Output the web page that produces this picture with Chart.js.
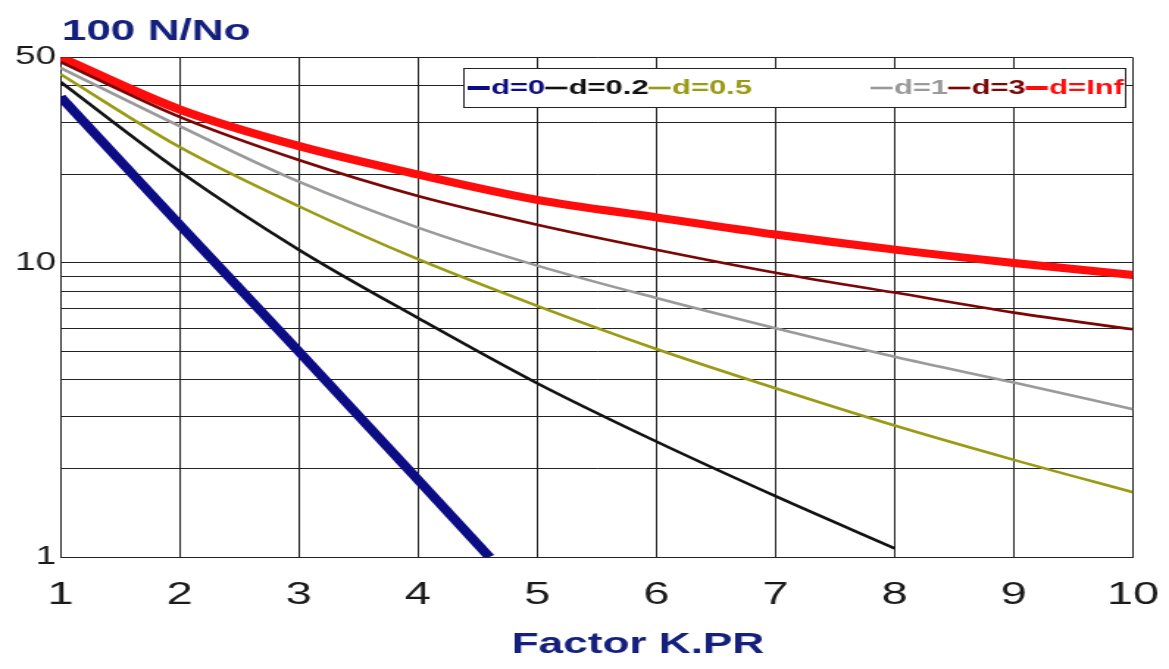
<!DOCTYPE html>
<html>
<head>
<meta charset="utf-8">
<script src="https://cdn.jsdelivr.net/npm/chart.js@4.4.1/dist/chart.umd.min.js"></script>
<style>
    html, body { margin: 0; padding: 0; background: #fff; overflow: hidden; }
    /* the source picture is stretched sideways, so the chart is drawn narrow and scaled */
    #wrap { position: absolute; left: 0; top: 0; width: 795px; height: 669px;
            transform: scaleX(1.47044); transform-origin: 0 0; }
</style>
</head>
<body>
<div id="wrap"><canvas id="chart"></canvas></div>
<script>
const xValues = [1, 2, 3, 4, 5, 6, 7, 8, 9, 10];
const xTickLabels = ['1', '2', '3', '4', '5', '6', '7', '8', '9', '10'];
const yGridValues = [1, 2, 3, 4, 5, 6, 7, 8, 9, 10, 20, 30, 40, 50];
const yTickLabels = [1, 10, 50];

const d0X = [1, 2, 3, 4, 4.6];
const d0Y = [36.8, 13.5, 5.0, 1.83, 1.0];
const d02X = [1, 2, 3, 4, 5, 6, 7, 8];
const d02Y = [41.3, 20.5, 11.1, 6.5, 3.9, 2.47, 1.61, 1.07];
const d05Y = [43.9, 24.8, 15.6, 10.3, 7.15, 5.1, 3.75, 2.8, 2.14, 1.66];
const d1Y = [46.1, 29.2, 18.9, 13.2, 9.8, 7.6, 6.0, 4.8, 3.92, 3.18];
const d3Y = [48.3, 31.4, 22.4, 16.9, 13.5, 11.1, 9.27, 7.93, 6.78, 5.95];
const dInfY = [50, 33.3, 25, 20, 16.4, 14.3, 12.5, 11.1, 10, 9.1];

const seriesLabels = ['d=0', 'd=0.2', 'd=0.5', 'd=1', 'd=3', 'd=Inf'];
const seriesColors = ['#0c0c84', '#111111', '#9a9a14', '#9a9a9a', '#7c0606', '#ff0d0d'];
const seriesWidths = [7.5, 2.6, 2.6, 2.6, 2.6, 8];

const FONT = '"Liberation Sans", Arial, sans-serif';
const NAVY = '#14207c';

function toPoints(xs, ys) {
    return ys.map((y, i) => ({ x: xs[i], y: y }));
}

const seriesData = [
    toPoints(d0X, d0Y),
    toPoints(d02X, d02Y),
    toPoints(xValues, d05Y),
    toPoints(xValues, d1Y),
    toPoints(xValues, d3Y),
    toPoints(xValues, dInfY),
];

// legend box and the two titles are drawn on top
const overlayPlugin = {
    id: 'overlay',
    afterDraw(chart) {
        const ctx = chart.ctx;
        ctx.save();

        ctx.fillStyle = '#fff';
        ctx.fillRect(315, 68, 450, 39);
        ctx.strokeStyle = '#222';
        ctx.lineWidth = 1;
        ctx.strokeRect(315.5, 68.5, 450, 39);

        ctx.font = 'bold 21px ' + FONT;
        ctx.textBaseline = 'middle';
        let x = 318;
        chart.data.datasets.forEach((ds, i) => {
            if (i === 3) x = 592;
            ctx.strokeStyle = ds.borderColor;
            ctx.lineWidth = Math.min(ds.borderWidth, 4);
            ctx.beginPath();
            ctx.moveTo(x, 88);
            ctx.lineTo(x + 15, 88);
            ctx.stroke();
            ctx.fillStyle = ds.borderColor;
            ctx.fillText(ds.label, x + 16, 88);
            x += 16 + ctx.measureText(ds.label).width;
        });

        ctx.fillStyle = NAVY;
        ctx.textBaseline = 'alphabetic';
        ctx.font = 'bold 30px ' + FONT;
        ctx.fillText('100 N/No', 42, 40);
        ctx.fillText('Factor K.PR', 348, 653);
        ctx.restore();
    }
};

document.addEventListener('DOMContentLoaded', function () {
    const ctx = document.getElementById('chart').getContext('2d');

    new Chart(ctx, {
        type: 'line',
        data: {
            datasets: seriesLabels.map((label, i) => ({
                label: label,
                data: seriesData[i],
                borderColor: seriesColors[i],
                borderWidth: seriesWidths[i],
                pointRadius: 0,
                fill: false,
                clip: 0,
                cubicInterpolationMode: i === 0 ? 'default' : 'monotone',
                tension: 0,
            }))
        },
        options: {
            responsive: true,
            maintainAspectRatio: false,
            animation: false,
            layout: { padding: { left: 0, right: 24.5, top: 57.5, bottom: 0 } },
            plugins: {
                legend: { display: false },
                tooltip: { enabled: false }
            },
            scales: {
                x: {
                    type: 'linear',
                    min: 1,
                    max: 10,
                    ticks: {
                        stepSize: 1,
                        padding: 19,
                        color: '#1a1a1a',
                        font: { family: FONT, size: 32 },
                        callback: v => xTickLabels[xValues.indexOf(v)]
                    },
                    grid: { color: '#222', lineWidth: 1, drawTicks: false },
                    border: { color: '#222', width: 1 },
                    afterFit(scale) {
                        scale.height = 112;
                        scale.paddingLeft = 0;
                        scale.paddingRight = 0;
                    }
                },
                y: {
                    type: 'logarithmic',
                    min: 1,
                    max: 50,
                    afterBuildTicks(scale) {
                        scale.ticks = yGridValues.map(v => ({ value: v }));
                    },
                    ticks: {
                        autoSkip: false,
                        padding: 3,
                        color: '#1a1a1a',
                        font: { family: FONT, size: 25 },
                        callback: v => yTickLabels.includes(v) ? String(v) : ''
                    },
                    grid: { color: '#222', lineWidth: 1, drawTicks: false },
                    border: { color: '#222', width: 1 },
                    afterFit(scale) {
                        scale.width = 41.1;
                        scale.paddingTop = 0;
                        scale.paddingBottom = 0;
                    }
                }
            }
        },
        plugins: [overlayPlugin]
    });
});
</script>
</body>
</html>
